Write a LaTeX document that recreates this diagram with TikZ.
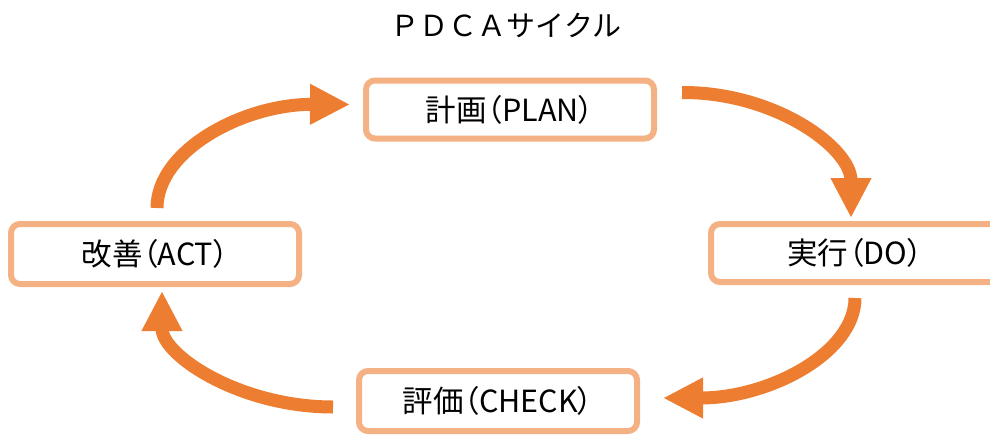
\documentclass[tikz,border=0pt]{standalone}
\usepackage{fontspec}
\setmainfont{Noto Sans CJK JP}
\newfontfamily\boxfont[RawFeature=+palt]{Noto Sans CJK JP}
\usetikzlibrary{arrows.meta}
\definecolor{boxline}{HTML}{F4B183}
\definecolor{arrowc}{HTML}{ED7D31}
\begin{document}
\begin{tikzpicture}[x=1pt,y=-1pt,
  stage/.style={draw=boxline,line width=6pt,rounded corners=9pt,fill=white,
    minimum width=288pt,minimum height=58pt,inner sep=0pt,
    font=\boxfont\fontsize{30.5}{33}\selectfont},
  cyc/.style={draw=arrowc,line width=13pt,
    -{Triangle[length=40pt,width=38pt]}}]
\useasboundingbox (0,0) rectangle (990,434);
\node[font=\fontsize{29}{32}\selectfont] (title) at (506,25) {ＰＤＣＡサイクル};
\node[stage] (plan) at (510,109.5) {計画（PLAN）};
\node[stage,minimum height=60pt] (act) at (155,254) {改善（ACT）};
\node[stage] (do) at (855,253) {実行（DO）};
\node[stage,minimum width=278pt,minimum height=60pt] (check) at (498,401) {評価（CHECK）};
% endpoints
\coordinate (a1s) at ([xshift=25pt,yshift=17pt]plan.east);
\coordinate (a1e) at ([xshift=-4pt,yshift=3pt]do.north);
\coordinate (a3s) at ([yshift=-13pt]do.south);
\coordinate (a3e) at ([xshift=23pt,yshift=3pt]check.east);
\coordinate (a4s) at ([xshift=-23pt,yshift=-6pt]check.west);
\coordinate (a4e) at ([xshift=7pt,yshift=-4pt]act.south);
\coordinate (a2s) at ([xshift=2pt,yshift=13pt]act.north);
\coordinate (a2e) at ([xshift=-13pt,yshift=5pt]plan.west);
\draw[cyc] (a1s) .. controls (775,92) and (851,148) .. (a1e);
\draw[cyc] (a3s) .. controls (855,353) and (769,398) .. (a3e);
\draw[cyc] (a4s) .. controls (239,407) and (162,355) .. (a4e);
\draw[cyc] (a2s) .. controls (157,150) and (244,104) .. (a2e);
\end{tikzpicture}
\end{document}
